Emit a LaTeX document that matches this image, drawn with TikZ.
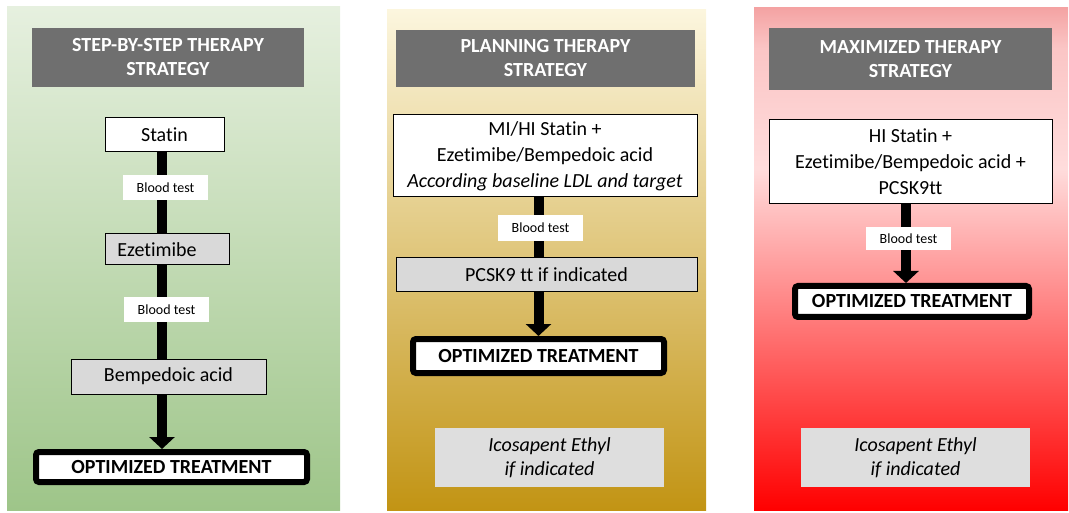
\documentclass[tikz,border=0pt]{standalone}
\usepackage{fontspec}
\setmainfont{Carlito}[Ligatures=NoCommon]
\usetikzlibrary{arrows.meta}
\definecolor{titlegrey}{HTML}{6F6F6F}
\definecolor{boxgrey}{HTML}{D9D9D9}
\definecolor{extragrey}{HTML}{DEDEDE}
\definecolor{greentop}{HTML}{E6F0DF}
\definecolor{greenbot}{HTML}{9EC589}
\definecolor{goldtop}{HTML}{FCF6DE}
\definecolor{goldbot}{HTML}{C29414}
\definecolor{redtop}{HTML}{F4A3A3}
\definecolor{redmid}{HTML}{FFDCDC}
\definecolor{redbot}{HTML}{FF0000}
\pgfdeclareverticalshading{redpanel}{100bp}{color(0bp)=(redbot); color(25bp)=(redbot); color(59bp)=(redmid); color(71bp)=(redmid!60!redtop); color(75bp)=(redtop); color(100bp)=(redtop)}
\tikzset{>/.tip={Triangle[width=25pt,length=12pt]},
  head/.style={fill=titlegrey, text=white, inner sep=0pt, align=center,
    font=\fontsize{20}{24}\selectfont\bfseries},
  whitebox/.style={draw, fill=white, line width=1pt, inner sep=0pt, align=center,
    font=\fontsize{20}{26}\selectfont},
  greybox/.style={whitebox, fill=boxgrey},
  testbox/.style={fill=white, inner sep=0pt, minimum width=85pt,
    font=\fontsize{14}{16}\selectfont},
  optbox/.style={draw, fill=white, line width=6pt, rounded corners=3pt, inner sep=0pt,
    font=\fontsize{20}{24}\selectfont\bfseries},
  extrabox/.style={fill=extragrey, inner sep=0pt, align=center, minimum width=229pt,
    minimum height=59pt, font=\fontsize{20}{24}\selectfont\itshape},
  link/.style={line width=10pt}}

\begin{document}
\begin{tikzpicture}[x=1pt, y=-1pt]
\useasboundingbox (0,0) rectangle (1069,513);
% the three panels
\shade[top color=greentop, bottom color=greenbot] (7,7) rectangle (340,510);
\shade[top color=goldtop, bottom color=goldbot] (387,10) rectangle (706,510);
\shade[shading=redpanel] (754,8) rectangle (1068,510);

% step-by-step
\node[head, minimum width=272pt, minimum height=59pt] (headL) at (168,57.5) {STEP-BY-STEP THERAPY\\STRATEGY};
\node[whitebox, minimum width=119pt, minimum height=34pt] (statin) at (164.5,135) {Statin};
\node[greybox, minimum width=124pt, minimum height=31pt] (ezet) at (167,249.5) {Ezetimibe\hspace{20pt}};
\node[greybox, minimum width=195pt, minimum height=35pt] (bemp) at (168.5,376.5) {Bempedoic acid};
\node[optbox, minimum width=271pt, minimum height=30pt] (optL) at (171.5,467) {OPTIMIZED TREATMENT};
\coordinate (axL) at (162,0);
\draw[link] (statin.south -| axL) -- (ezet.north -| axL);
\draw[link] (ezet.south -| axL) -- (bemp.north -| axL);
\draw[link,->] (bemp.south -| axL) -- (optL.north -| axL);
\node[testbox, minimum height=25pt] (testL1) at (165.5,187.5) {Blood test};
\node[testbox, minimum height=25pt] (testL2) at (166.5,309.5) {Blood test};

% planning
\node[head, minimum width=299pt, minimum height=57pt] (headM) at (545.5,58.5) {PLANNING THERAPY\\STRATEGY};
\node[whitebox, minimum width=304pt, minimum height=82pt] (comboM) at (545,156) {MI/HI Statin +\\Ezetimibe/Bempedoic acid\\\textit{According baseline LDL and target}};
\node[greybox, minimum width=301pt, minimum height=34pt] (pcsk) at (546.5,275) {PCSK9 tt if indicated};
\node[optbox, minimum width=251pt, minimum height=34pt] (optM) at (538.5,356) {OPTIMIZED TREATMENT};
\node[extrabox] (icoM) at (549.5,457.5) {Icosapent Ethyl\\if indicated};
\coordinate (axM) at (538.5,0);
\draw[link] (comboM.south -| axM) -- (pcsk.north -| axM);
\draw[link,->] (pcsk.south -| axM) -- (optM.north -| axM);
\node[testbox, minimum height=26pt] (testM) at (540.5,228) {Blood test};

% maximized
\node[head, minimum width=283pt, minimum height=62pt] (headR) at (910.5,59) {MAXIMIZED THERAPY\\STRATEGY};
\node[whitebox, minimum width=283pt, minimum height=84pt] (comboR) at (910.5,162) {HI Statin +\\Ezetimibe/Bempedoic acid +\\PCSK9tt};
\node[optbox, minimum width=234pt, minimum height=31pt] (optR) at (912,301.5) {OPTIMIZED TREATMENT};
\node[extrabox] (icoR) at (915.5,457.5) {Icosapent Ethyl\\if indicated};
\coordinate (axR) at (906,0);
\draw[link,->] (comboR.south -| axR) -- (optR.north -| axR);
\node[testbox, minimum height=23pt] (testR) at (908.5,238.5) {Blood test};
\end{tikzpicture}
\end{document}
